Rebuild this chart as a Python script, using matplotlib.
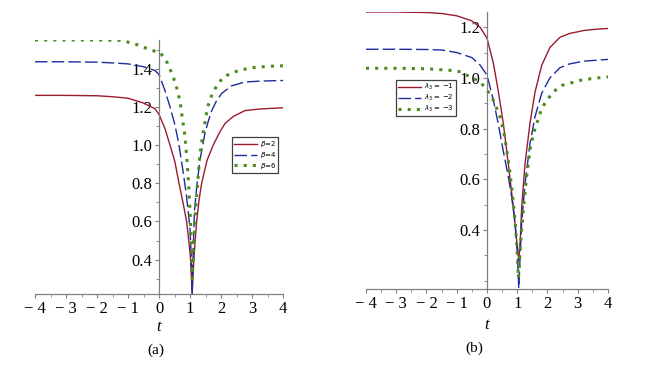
import numpy as np
import matplotlib
matplotlib.use("Agg")
import matplotlib.pyplot as plt
from matplotlib.ticker import MultipleLocator, FixedLocator, FixedFormatter

# panel (a): curves for beta = 2, 4, 6
t_a_red = [-4, -3, -2, -1.5, -1, -0.5, -0.13, 0, 0.19, 0.355, 0.516, 0.645, 0.785, 0.89, 0.96, 1.01, 1.04, 1.07,
           1.1, 1.14, 1.215, 1.29, 1.376, 1.55, 1.75, 1.95, 2.13, 2.4, 2.77, 3.2, 3.6, 4]
y_a_red = [1.26, 1.26, 1.258, 1.253, 1.245, 1.22, 1.19, 1.16, 1.087, 1.0, 0.91, 0.80, 0.69, 0.60, 0.50, 0.42, 0.33, 0.22,
           0.33, 0.44, 0.60, 0.71, 0.80, 0.92, 1.0, 1.065, 1.113, 1.15, 1.18, 1.188, 1.192, 1.195]

t_a_blue = [-4, -3, -2, -1.5, -1, -0.5, -0.13, 0, 0.19, 0.355, 0.516, 0.645, 0.785, 0.89, 0.946, 1.0, 1.04, 1.07,
            1.1, 1.14, 1.215, 1.32, 1.48, 1.59, 1.70, 1.85, 2.02, 2.34, 2.77, 3.3, 4]
y_a_blue = [1.436, 1.436, 1.434, 1.43, 1.425, 1.41, 1.39, 1.37, 1.286, 1.2, 1.104, 1.0, 0.853, 0.73, 0.645, 0.56, 0.42, 0.22,
            0.42, 0.645, 0.78, 0.92, 1.06, 1.125, 1.18, 1.23, 1.27, 1.31, 1.33, 1.335, 1.338]

t_a_green = [-4, -3, -2, -1.2, -0.7, -0.38, -0.11, 0.03, 0.226, 0.355, 0.462, 0.57, 0.677, 0.753, 0.839, 0.914, 0.968,
             1.0, 1.03, 1.07, 1.11, 1.14, 1.18, 1.25, 1.32, 1.43, 1.57, 1.70, 1.86, 2.07, 2.29, 2.56, 3.0, 3.5, 4]
y_a_green = [1.55, 1.55, 1.55, 1.548, 1.525, 1.505, 1.49, 1.485, 1.445, 1.398, 1.355, 1.30, 1.23, 1.14, 1.045, 0.897, 0.76,
             0.66, 0.54, 0.30, 0.42, 0.54, 0.66, 0.81, 0.95, 1.07, 1.2, 1.26, 1.31, 1.355, 1.373, 1.39, 1.405, 1.412, 1.415]

# panel (b): curves for lambda_3 = -1, -2, -3
t_b_red = [-4, -3, -2, -1.5, -1, -0.5, -0.23, 0, 0.21, 0.37, 0.54, 0.705, 0.87, 0.98, 1.05,
           1.1, 1.146, 1.256, 1.42, 1.587, 1.81, 2.08, 2.41, 2.72, 3.2, 3.6, 4]
y_b_red = [1.26, 1.26, 1.258, 1.254, 1.245, 1.225, 1.2, 1.157, 1.058, 0.95, 0.82, 0.66, 0.49, 0.36, 0.28,
           0.36, 0.49, 0.66, 0.82, 0.944, 1.05, 1.12, 1.16, 1.175, 1.187, 1.192, 1.195]

t_b_blue = [-4, -3, -2, -1.5, -1, -0.5, -0.23, 0, 0.21, 0.37, 0.54, 0.705, 0.815, 0.926, 1.0, 1.05,
            1.1, 1.146, 1.256, 1.42, 1.587, 1.81, 2.08, 2.41, 2.72, 3.2, 4]
y_b_blue = [1.113, 1.113, 1.112, 1.11, 1.1, 1.08, 1.051, 1.011, 0.912, 0.82, 0.71, 0.61, 0.53, 0.43, 0.31, 0.17,
            0.31, 0.43, 0.58, 0.74, 0.847, 0.94, 1.0, 1.04, 1.055, 1.066, 1.073]

t_b_green = [-4, -3, -2, -1.22, -0.87, -0.5, -0.23, 0, 0.18, 0.32, 0.45, 0.595, 0.74, 0.85, 0.926, 0.98, 1.04,
             1.11, 1.2, 1.31, 1.44, 1.587, 1.81, 1.97, 2.19, 2.47, 3.07, 3.5, 4]
y_b_green = [1.038, 1.038, 1.036, 1.03, 1.024, 1.0, 0.985, 0.952, 0.92, 0.88, 0.84, 0.76, 0.645, 0.53, 0.44, 0.35, 0.21,
             0.35, 0.48, 0.61, 0.73, 0.80, 0.88, 0.91, 0.945, 0.97, 0.99, 0.998, 1.004]

labels_a = [r"$\beta$=2", r"$\beta$=4", r"$\beta$=6"]
labels_b = [r"$\lambda_3$ = $-1$", r"$\lambda_3$ = $-2$", r"$\lambda_3$ = $-3$"]
xticks = [-4, -3, -2, -1, 0, 1, 2, 3, 4]
xticklabels = ["\u2212 4", "\u2212 3", "\u2212 2", "\u2212 1", "0", "1", "2", "3", "4"]

RED = "#9b1a2e"
BLUE = "#1c2c9c"
GREEN = "#4b8c1e"
AXC = "#808080"

plt.rcParams["mathtext.fontset"] = "dejavusans"

fig = plt.figure(figsize=(6.72, 3.71), dpi=100)
ax1 = fig.add_axes([35 / 672, 1 - 294 / 371, 248 / 672, 254 / 371])
ax2 = fig.add_axes([366 / 672, 1 - 289 / 371, 242 / 672, 277 / 371])


def style(ax, ylim, yticks):
    ax.set_xlim(-4, 4)
    ax.set_ylim(*ylim)
    for s in ["top", "right"]:
        ax.spines[s].set_visible(False)
    ax.spines["left"].set_position(("data", 0))
    for s in ["left", "bottom"]:
        ax.spines[s].set_color(AXC)
        ax.spines[s].set_linewidth(0.9)
    ax.xaxis.set_major_locator(FixedLocator(xticks))
    ax.xaxis.set_major_formatter(FixedFormatter(xticklabels))
    ax.xaxis.set_minor_locator(MultipleLocator(0.5))
    ax.yaxis.set_major_locator(FixedLocator(yticks))
    ax.yaxis.set_minor_locator(MultipleLocator(0.1))
    ax.tick_params(which="major", length=3, color=AXC, width=0.8, labelsize=12, pad=2)
    ax.tick_params(which="minor", length=2, color=AXC, width=0.6)
    for lab in ax.get_xticklabels() + ax.get_yticklabels():
        lab.set_fontfamily("Liberation Serif")
    ax.text(0, -0.13, "t", transform=ax.get_xaxis_transform(), ha="center", va="center",
            fontsize=12, fontstyle="italic", family="Liberation Serif")


def curves(ax, data, labels):
    (tr, yr), (tb, yb), (tg, yg) = data
    ax.plot(tr, yr, color=RED, lw=1.0, label=labels[0])
    ax.plot(tb, yb, color=BLUE, lw=1.0, dashes=(9, 3), label=labels[1])
    ax.plot(tg, yg, color=GREEN, lw=2.2, dashes=(1, 2), label=labels[2])


curves(ax1, [(t_a_red, y_a_red), (t_a_blue, y_a_blue), (t_a_green, y_a_green)], labels_a)
curves(ax2, [(t_b_red, y_b_red), (t_b_blue, y_b_blue), (t_b_green, y_b_green)], labels_b)

style(ax1, (0.22, 1.55), [0.4, 0.6, 0.8, 1.0, 1.2, 1.4])
style(ax2, (0.167, 1.26), [0.4, 0.6, 0.8, 1.0, 1.2])

for ax, anchor in [(ax1, (0.794, 0.618)), (ax2, (0.124, 0.755))]:
    leg = ax.legend(loc="upper left", bbox_to_anchor=anchor, borderaxespad=0, fontsize=5,
                    fancybox=False, framealpha=1, edgecolor="#404040", handlelength=3.3,
                    borderpad=0.3, labelspacing=0.12, handletextpad=0.4)
    leg.get_frame().set_linewidth(0.9)

fig.text(156 / 672, 1 - 350 / 371, "(a)", ha="center", va="center", fontsize=11, family="Liberation Serif")
fig.text(474 / 672, 1 - 348 / 371, "(b)", ha="center", va="center", fontsize=11, family="Liberation Serif")

plt.savefig("out.png", dpi=100)
